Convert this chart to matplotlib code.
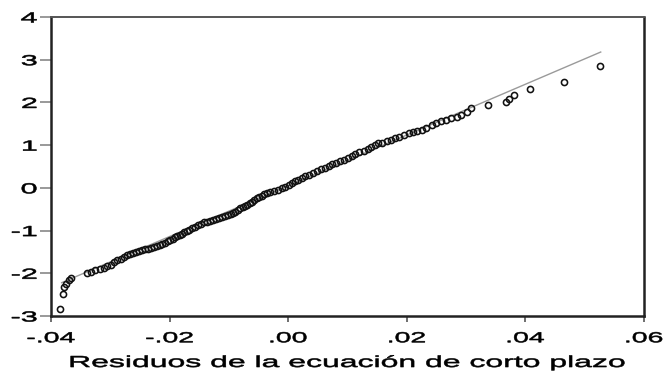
import matplotlib
matplotlib.use('Agg')
import matplotlib.pyplot as plt
from matplotlib.patheffects import AbstractPathEffect
from matplotlib.transforms import Affine2D

# sorted residuals (x) and theoretical normal quantiles (y)
resid = [
    -0.0385, -0.0380, -0.0378, -0.0375, -0.0370, -0.0366,
    -0.0340, -0.0333, -0.0326, -0.0318, -0.0311, -0.0305, -0.0299, -0.0293,
    -0.0288, -0.0282, -0.0277, -0.0272, -0.0267, -0.0262, -0.0257, -0.0252,
    -0.0247, -0.0242, -0.0237, -0.0232, -0.0227, -0.0222, -0.0217, -0.0212,
    -0.0207, -0.0203, -0.0199, -0.0195, -0.0191, -0.0187, -0.0183, -0.0179,
    -0.0175, -0.0171, -0.0167, -0.0162, -0.0157, -0.0152, -0.0147, -0.0142,
    -0.0137, -0.0132, -0.0127, -0.0122, -0.0117, -0.0112, -0.0107, -0.0102,
    -0.0097, -0.0093, -0.0089, -0.0085, -0.0081, -0.0077, -0.0073, -0.0069,
    -0.0065, -0.0061, -0.0057, -0.0053, -0.0049, -0.0045, -0.0041, -0.0036,
    -0.0031, -0.0024, -0.0017, -0.0011, -0.0005, 0.0001, 0.0006, 0.0011,
    0.0017, 0.0023, 0.0029, 0.0035, 0.0042, 0.0049, 0.0056, 0.0062,
    0.0068, 0.0074, 0.0080, 0.0087, 0.0094, 0.0101, 0.0107, 0.0113,
    0.0120, 0.0127, 0.0134, 0.0140, 0.0146, 0.0152, 0.0159, 0.0166,
    0.0173, 0.0180, 0.0187, 0.0195, 0.0203, 0.0211, 0.0218, 0.0225,
    0.0232, 0.0242, 0.0250, 0.0258, 0.0266, 0.0275, 0.0284, 0.0292,
    0.0301, 0.0309, 0.0337, 0.0367, 0.0372, 0.0380, 0.0408, 0.0465, 0.0526,
]
quantiles = [
    -2.84, -2.49, -2.32, -2.25, -2.16, -2.10,
    -1.99, -1.96, -1.93, -1.90, -1.87, -1.83, -1.80, -1.74,
    -1.70, -1.67, -1.63, -1.58, -1.55, -1.52, -1.50, -1.48,
    -1.46, -1.44, -1.42, -1.40, -1.38, -1.36, -1.34, -1.31,
    -1.28, -1.25, -1.22, -1.19, -1.16, -1.13, -1.10, -1.07,
    -1.04, -1.01, -0.98, -0.95, -0.91, -0.87, -0.84, -0.81,
    -0.79, -0.77, -0.75, -0.73, -0.71, -0.69, -0.66, -0.64,
    -0.62, -0.59, -0.56, -0.52, -0.48, -0.45, -0.42, -0.39,
    -0.35, -0.32, -0.28, -0.24, -0.21, -0.18, -0.15, -0.12,
    -0.09, -0.07, -0.05, -0.01, 0.03, 0.07, 0.11, 0.15,
    0.19, 0.23, 0.27, 0.31, 0.35, 0.39, 0.43, 0.47,
    0.51, 0.55, 0.59, 0.62, 0.66, 0.70, 0.75, 0.79,
    0.83, 0.86, 0.90, 0.95, 1.00, 1.04, 1.06, 1.09,
    1.13, 1.17, 1.20, 1.24, 1.28, 1.31, 1.33, 1.36,
    1.40, 1.46, 1.51, 1.56, 1.60, 1.63, 1.66, 1.71,
    1.78, 1.86, 1.93, 2.02, 2.08, 2.17, 2.31, 2.49, 2.86,
]

# fitted normal reference line (end points)
ref_x = [-0.0382, 0.0527]
ref_y = [-2.22, 3.18]

xticks = [-0.04, -0.02, 0.00, 0.02, 0.04, 0.06]
xtick_labels = ['-.04', '-.02', '.00', '.02', '.04', '.06']
yticks = [-3, -2, -1, 0, 1, 2, 3, 4]
ytick_labels = ['-3', '-2', '-1', '0', '1', '2', '3', '4']


class Stretch(AbstractPathEffect):
    # widen glyphs horizontally, the original export has stretched lettering
    def __init__(self, sx, anchor='center', lw=0.4):
        super().__init__()
        self.sx = sx
        self.anchor = anchor
        self.lw = lw

    def draw_path(self, renderer, gc, tpath, affine, rgbFace=None):
        ext = tpath.get_extents()
        if self.anchor == 'right':
            cx = ext.x1
        elif self.anchor == 'left':
            cx = ext.x0
        else:
            cx = (ext.x0 + ext.x1) / 2
        st = Affine2D().translate(-cx, 0).scale(self.sx, 1).translate(cx, 0)
        gc.set_linewidth(self.lw)  # a bit heavier, like the blurry original
        renderer.draw_path(gc, tpath, st + affine, rgbFace)


plt.rcParams['font.family'] = ['Liberation Sans', 'DejaVu Sans']

fig = plt.figure(figsize=(6.7, 3.72), dpi=100)
ax = fig.add_axes([0.0761, 0.1505, 0.8851, 0.8038])

ax.plot(ref_x, ref_y, color='#9a9a9a', lw=1.0, zorder=1)
ax.plot(resid, quantiles, ls='none', marker='o', ms=4.4, mfc='none',
        mec='#111111', mew=1.15, zorder=2)

ax.set_xlim(-0.04, 0.06)
ax.set_ylim(-3, 4)
ax.set_xticks(xticks)
ax.set_xticklabels(xtick_labels)
ax.set_yticks(yticks)
ax.set_yticklabels(ytick_labels)
ax.tick_params(axis='x', direction='out', length=4, width=1.2, color='#555555',
               labelsize=10.5, pad=7)
ax.tick_params(axis='y', direction='out', length=8, width=1.2, color='#888888',
               labelsize=10.5, pad=2)
for lab in ax.get_xticklabels():
    lab.set_path_effects([Stretch(1.95)])
for lab in ax.get_yticklabels():
    lab.set_path_effects([Stretch(2.1, 'right')])

for side in ['left', 'bottom', 'right']:
    ax.spines[side].set_linewidth(1.8)
    ax.spines[side].set_color('#222222')
ax.spines['top'].set_linewidth(1.4)
ax.spines['top'].set_color('#555555')

xl = ax.set_xlabel('Residuos de la ecuación de corto plazo', fontsize=11.5, labelpad=7)
xl.set_path_effects([Stretch(2.0)])

fig.savefig('out.png', dpi=100)
